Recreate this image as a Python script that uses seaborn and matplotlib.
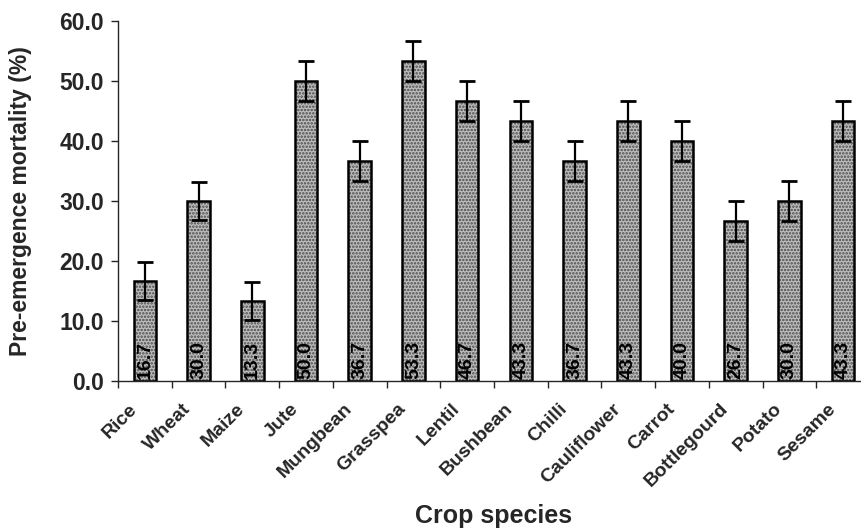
import matplotlib
matplotlib.use("Agg")
import matplotlib.pyplot as plt
import seaborn as sns
import pandas as pd
import numpy as np

crops = ["Rice", "Wheat", "Maize", "Jute", "Mungbean", "Grasspea", "Lentil",
         "Bushbean", "Chilli", "Cauliflower", "Carrot", "Bottlegourd", "Potato", "Sesame"]
mortality = [16.7, 30.0, 13.3, 50.0, 36.7, 53.3, 46.7, 43.3, 36.7, 43.3, 40.0, 26.7, 30.0, 43.3]
errors = [3.2, 3.2, 3.2, 3.3, 3.3, 3.3, 3.3, 3.3, 3.3, 3.3, 3.3, 3.3, 3.3, 3.3]
yticks = [0, 10, 20, 30, 40, 50, 60]

df = pd.DataFrame({"crop": crops, "mortality": mortality})

sns.set_style("ticks")
plt.rcParams["font.family"] = ["Liberation Sans", "DejaVu Sans"]
plt.rcParams["font.weight"] = "bold"
plt.rcParams["hatch.linewidth"] = 1.2

fig = plt.figure(figsize=(8.62, 5.28), dpi=100)
ax = fig.add_axes([118 / 862, (528 - 381) / 528, 744 / 862, 360 / 528])

# textured fill layer
sns.barplot(data=df, x="crop", y="mortality", ax=ax, color="#bdbdbd",
            width=0.42, errorbar=None, saturation=1)
for p in ax.patches:
    p.set_hatch(".....")
    p.set_edgecolor("#4a4a4a")
    p.set_linewidth(0)
# outline layer
sns.barplot(data=df, x="crop", y="mortality", ax=ax, color="none",
            width=0.42, errorbar=None, saturation=1)
n = len(crops)
for p in ax.patches[n:]:
    p.set_facecolor("none")
    p.set_edgecolor("black")
    p.set_linewidth(1.8)

xpos = np.arange(n)
ax.errorbar(xpos, mortality, yerr=errors, fmt="none", ecolor="black",
            elinewidth=1.6, capsize=6, capthick=2, zorder=5)

for x, v in zip(xpos, mortality):
    ax.text(x, 0.3, f"{v:.1f}", rotation=90, ha="center", va="bottom",
            fontsize=14, fontweight="bold", color="black", zorder=6)

ax.set_ylim(0, 60)
ax.set_xlim(-0.5, 13.35)
ax.set_yticks(yticks)
ax.set_yticklabels([f"{t:.1f}" for t in yticks], fontsize=16.5, fontweight="bold")
major = np.arange(-0.5, 13.5, 1.0)
ax.set_xticks(major, minor=False)
ax.set_xticklabels([""] * len(major))
ax.set_xticks(xpos - 0.3, minor=True)
ax.set_xticklabels(crops, minor=True, rotation=45, ha="right", rotation_mode="anchor",
                   fontsize=14, fontweight="bold")
ax.tick_params(axis="x", which="minor", length=0, pad=14)
ax.tick_params(axis="x", which="major", length=5, width=1, direction="out")
ax.tick_params(axis="y", length=5, width=1, direction="out", pad=5)

for s in ["top", "right"]:
    ax.spines[s].set_visible(False)
ax.spines["left"].set_linewidth(1)
ax.spines["bottom"].set_linewidth(1)

ax.set_ylabel("Pre-emergence mortality (%)", fontsize=16.5, fontweight="bold")
ax.yaxis.set_label_coords(-(118 - 32) / 744, 0.5)
ax.set_xlabel("")
fig.text(494 / 862, 1 - 516 / 528, "Crop species", ha="center", va="center",
         fontsize=18, fontweight="bold")

fig.savefig("out.png", dpi=100)
